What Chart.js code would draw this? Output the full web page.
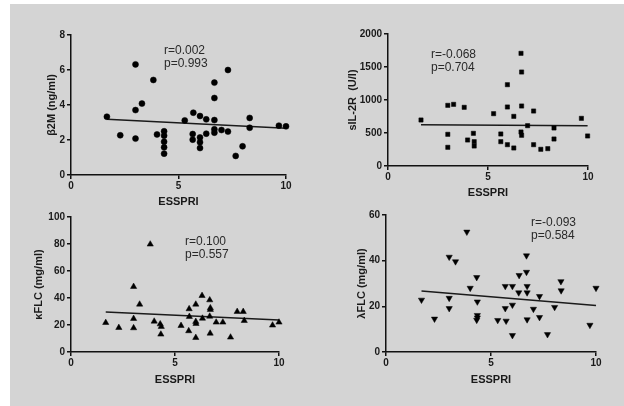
<!DOCTYPE html>
<html>
<head>
<meta charset="utf-8">
<script src="https://cdn.jsdelivr.net/npm/chart.js@4.4.1/dist/chart.umd.min.js"></script>
<style>
    html, body { margin: 0; padding: 0; background: #ffffff; }
    #Stage { position: relative; width: 624px; height: 406px; overflow: hidden; }
    #Panel_Bg { position: absolute; left: 10px; top: 4px; right: 0; bottom: 0; background: #d4d4d4; }
    canvas { position: absolute; left: 0; top: 0; }
</style>
</head>
<body>
<div id="Stage">
    <div id="Panel_Bg"></div>
    <canvas id="Chart_B2M" width="624" height="406"></canvas>
    <canvas id="Chart_IL2R" width="624" height="406"></canvas>
    <canvas id="Chart_KFLC" width="624" height="406"></canvas>
    <canvas id="Chart_LFLC" width="624" height="406"></canvas>
</div>
<script>
const X_Ticks = [0, 5, 10];

// beta2M vs ESSPRI
const B2M_X = [1.67, 2.29, 3.0, 3.0, 3.0, 3.3, 3.83, 4.0, 4.33, 4.33, 4.33, 4.33, 4.33, 5.29, 5.69, 5.66, 5.66, 6.0, 6.0, 6.0, 6.0, 6.29, 6.29, 6.67, 6.67, 6.67, 6.67, 6.67, 7.0, 7.3, 7.3, 7.66, 7.98, 8.31, 8.31, 9.67, 10];
const B2M_Y = [3.33, 2.27, 6.32, 3.71, 2.08, 4.08, 5.43, 2.32, 2.5, 2.25, 1.9, 1.58, 1.22, 3.12, 3.56, 2.34, 2.02, 3.37, 2.15, 1.87, 1.54, 3.18, 2.36, 5.28, 4.4, 3.14, 2.61, 2.42, 2.57, 6.0, 2.48, 1.09, 1.64, 3.26, 2.7, 2.82, 2.78];
const B2M_Trend_X = [1.67, 10];
const B2M_Trend_Y = [3.18, 2.67];
const B2M_Y_Ticks = [0, 2, 4, 6, 8];

// sIL-2R vs ESSPRI
const IL2R_X = [1.65, 2.99, 2.99, 2.99, 3.28, 3.81, 3.98, 4.27, 4.31, 4.31, 5.28, 5.64, 5.64, 5.97, 5.97, 5.97, 6.29, 6.29, 6.65, 6.68, 6.68, 6.65, 6.68, 6.98, 7.28, 7.28, 7.64, 7.99, 8.3, 8.3, 9.67, 9.98];
const IL2R_Y = [697, 919, 480, 283, 934, 889, 394, 495, 369, 303, 793, 485, 369, 1232, 894, 323, 752, 273, 1707, 1424, 909, 515, 465, 611, 833, 323, 253, 263, 576, 409, 722, 455];
const IL2R_Trend_X = [1.65, 9.98];
const IL2R_Trend_Y = [626, 611];
const IL2R_Y_Ticks = [0, 500, 1000, 1500, 2000];

// kappa FLC vs ESSPRI
const KFLC_X = [1.67, 2.3, 3.01, 3.01, 3.01, 3.3, 3.81, 4.0, 4.29, 4.34, 4.32, 5.29, 5.68, 5.69, 5.66, 6.0, 6.0, 6.01, 6.0, 6.3, 6.32, 6.67, 6.7, 6.7, 6.67, 6.69, 6.98, 7.3, 7.67, 7.99, 8.28, 8.33, 9.69, 10];
const KFLC_Y = [21.7, 18.0, 48.4, 24.7, 17.8, 35.3, 79.8, 22.7, 20.7, 18.8, 13.1, 19.5, 31.9, 26.2, 15.6, 35.3, 22.5, 21.0, 10.6, 41.7, 24.9, 38.5, 32.6, 31.4, 26.4, 13.8, 22.0, 22.0, 10.9, 29.9, 29.9, 23.2, 19.8, 22.0];
const KFLC_Trend_X = [1.67, 10];
const KFLC_Trend_Y = [29.6, 23.7];
const KFLC_Y_Ticks = [0, 20, 40, 60, 80, 100];

// lambda FLC vs ESSPRI
const LFLC_X = [1.69, 2.31, 3.01, 3.01, 3.01, 3.31, 3.85, 4.01, 4.32, 4.35, 4.35, 4.35, 4.32, 5.32, 5.68, 5.68, 5.72, 6.02, 6.02, 6.02, 6.34, 6.32, 6.69, 6.69, 6.72, 6.72, 6.72, 7.02, 7.31, 7.31, 7.69, 8.03, 8.33, 8.34, 9.71, 10];
const LFLC_Y = [22.8, 14.5, 41.6, 23.6, 19.1, 39.6, 52.6, 28.0, 32.7, 22.0, 16.1, 15.0, 14.0, 13.9, 28.8, 19.1, 13.6, 28.8, 20.6, 7.3, 33.6, 26.0, 42.2, 35.0, 28.8, 26.0, 14.2, 18.8, 24.4, 15.2, 7.7, 19.6, 30.9, 26.9, 11.8, 28.0];
const LFLC_Trend_X = [1.69, 10];
const LFLC_Trend_Y = [26.7, 20.4];
const LFLC_Y_Ticks = [0, 20, 40, 60];

const Font_Name = "'Liberation Sans', Arial, Helvetica, sans-serif";
const Ink = "#111111";
const Title_Size = 11;
const Title_Half = Title_Size * 1.2 / 2;

function To_Points(Xs, Ys) {
    return Xs.map(function (X, I) { return { x: X, y: Ys[I] }; });
}

function Plain_Number(Value) {
    return String(Value);
}

const Corr_Text_Plugin = {
    id: "Corr_Text",
    afterDraw: function (Chart_Obj, Args, Opts) {
        const Ctx = Chart_Obj.ctx;
        Ctx.save();
        Ctx.font = "12px " + Font_Name;
        Ctx.fillStyle = "#2a2a2a";
        Ctx.textBaseline = "middle";
        Ctx.textAlign = "left";
        (Opts.lines || []).forEach(function (Line, I) {
            Ctx.fillText(Line, Opts.x, Opts.y + I * 13);
        });
        Ctx.restore();
    }
};

function Make_Panel(Canvas_Id, P) {
    const Pad_Left = P.yTitleX - Title_Half;
    const X_Bottom = P.xTitleY + Title_Half;
    const Axis_Line = { display: true, color: Ink, width: 1.5 };
    const Axis_Grid = { display: true, drawOnChartArea: false, drawTicks: true, tickLength: 4, color: Ink, lineWidth: 1.5 };
    const Tick_Font = { family: Font_Name, size: 10, weight: "bold" };
    const Title_Font = { family: Font_Name, size: Title_Size, weight: "bold", lineHeight: 1.2 };

    return new Chart(document.getElementById(Canvas_Id), {
        type: "scatter",
        data: {
            datasets: [{
                data: To_Points(P.xs, P.ys),
                pointStyle: P.marker,
                pointRotation: P.rotation || 0,
                pointRadius: P.radius,
                pointBackgroundColor: "#000000",
                pointBorderColor: "#000000",
                pointBorderWidth: 0.5,
                clip: false
            }, {
                data: To_Points(P.trendX, P.trendY),
                showLine: true,
                pointRadius: 0,
                borderColor: "#1a1a1a",
                borderWidth: 1.5,
                clip: false
            }]
        },
        options: {
            responsive: false,
            animation: false,
            events: [],
            layout: {
                padding: { left: Pad_Left, top: P.top, right: 624 - P.right, bottom: 406 - X_Bottom }
            },
            plugins: {
                legend: { display: false },
                tooltip: { enabled: false },
                Corr_Text: P.note
            },
            scales: {
                x: {
                    type: "linear",
                    min: 0,
                    max: 10,
                    afterBuildTicks: function (S) { S.ticks = X_Ticks.map(function (V) { return { value: V }; }); },
                    afterFit: function (S) { S.height = X_Bottom - P.bottom; },
                    border: Axis_Line,
                    grid: Axis_Grid,
                    ticks: { font: Tick_Font, color: "#1a1a1a", padding: 1, maxRotation: 0, callback: Plain_Number },
                    title: { display: true, text: "ESSPRI", font: Title_Font, color: "#1a1a1a", padding: 0 }
                },
                y: {
                    type: "linear",
                    min: P.yTicks[0],
                    max: P.yTicks[P.yTicks.length - 1],
                    afterBuildTicks: function (S) { S.ticks = P.yTicks.map(function (V) { return { value: V }; }); },
                    afterFit: function (S) { S.width = P.left - Pad_Left; },
                    border: Axis_Line,
                    grid: Axis_Grid,
                    ticks: { font: Tick_Font, color: "#1a1a1a", padding: 2, callback: Plain_Number },
                    title: { display: true, text: P.yTitle, font: Title_Font, color: "#1a1a1a", padding: 0 }
                }
            }
        },
        plugins: [Corr_Text_Plugin]
    });
}

Make_Panel("Chart_B2M", {
    xs: B2M_X, ys: B2M_Y, trendX: B2M_Trend_X, trendY: B2M_Trend_Y, yTicks: B2M_Y_Ticks,
    marker: "circle", radius: 3, yTitle: "\u03B22M (ng/ml)",
    left: 71, right: 286, top: 35, bottom: 175, yTitleX: 52, xTitleY: 202,
    note: { lines: ["r=0.002", "p=0.993"], x: 164, y: 51 }
});

Make_Panel("Chart_IL2R", {
    xs: IL2R_X, ys: IL2R_Y, trendX: IL2R_Trend_X, trendY: IL2R_Trend_Y, yTicks: IL2R_Y_Ticks,
    marker: "rect", radius: 3, yTitle: "sIL-2R  (U/l)",
    left: 388, right: 588, top: 34, bottom: 166, yTitleX: 353, xTitleY: 193,
    note: { lines: ["r=-0.068", "p=0.704"], x: 431, y: 55 }
});

Make_Panel("Chart_KFLC", {
    xs: KFLC_X, ys: KFLC_Y, trendX: KFLC_Trend_X, trendY: KFLC_Trend_Y, yTicks: KFLC_Y_Ticks,
    marker: "triangle", radius: 3.6, yTitle: "\u03BAFLC (mg/ml)",
    left: 71, right: 279, top: 217, bottom: 352, yTitleX: 39, xTitleY: 380,
    note: { lines: ["r=0.100", "p=0.557"], x: 185, y: 242 }
});

Make_Panel("Chart_LFLC", {
    xs: LFLC_X, ys: LFLC_Y, trendX: LFLC_Trend_X, trendY: LFLC_Trend_Y, yTicks: LFLC_Y_Ticks,
    marker: "triangle", rotation: 180, radius: 3.6, yTitle: "\u03BBFLC (mg/ml)",
    left: 386, right: 596, top: 215, bottom: 352, yTitleX: 362, xTitleY: 380,
    note: { lines: ["r=-0.093", "p=0.584"], x: 531, y: 223 }
});
</script>
</body>
</html>
